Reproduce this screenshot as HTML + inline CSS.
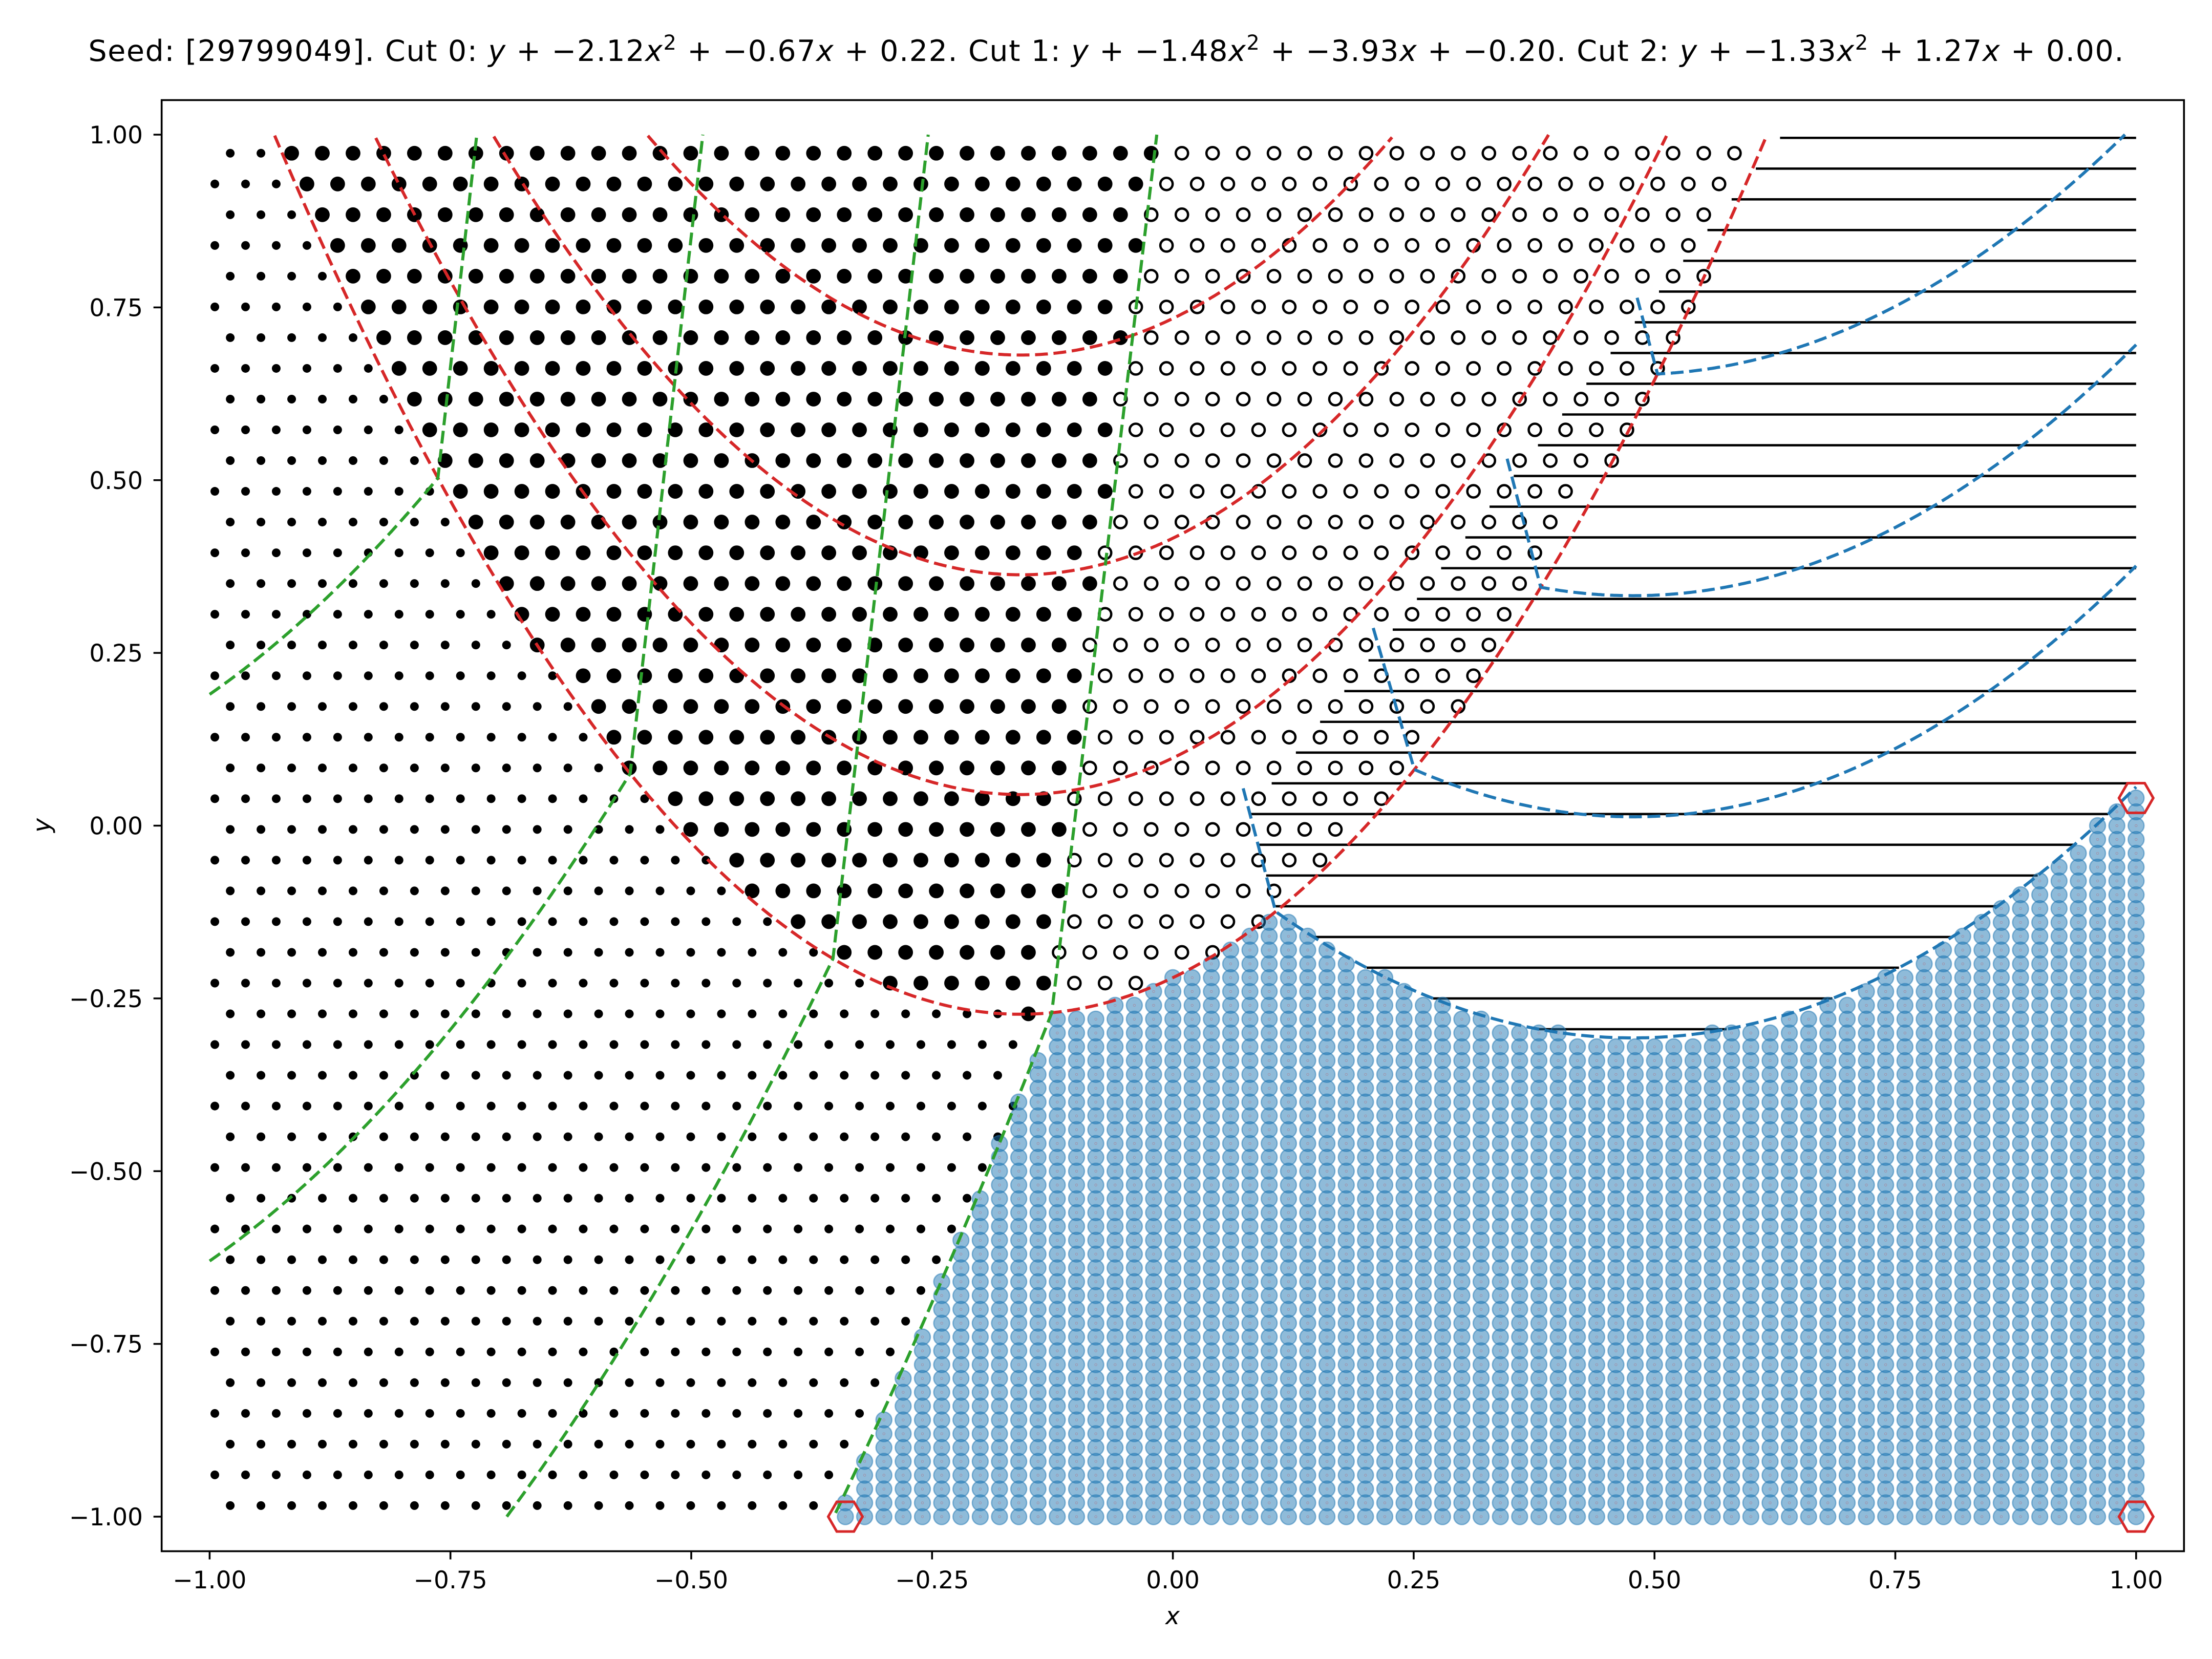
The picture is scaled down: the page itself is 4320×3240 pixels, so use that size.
<!DOCTYPE html>
<html><head><meta charset="utf-8">
<style>
html,body{margin:0;padding:0;background:#fff;}
svg{display:block;}
text{font-family:"DejaVu Sans","Liberation Sans",sans-serif;fill:#000;}
</style></head>
<body>
<svg id="chart" xmlns="http://www.w3.org/2000/svg" width="4320" height="3240" viewBox="0 0 4320 3240">
<rect x="0" y="0" width="4320" height="3240" fill="#fff"/>
<text x="2160" y="119" font-size="57" text-anchor="middle" textLength="3975" lengthAdjust="spacing">Seed: [29799049]. Cut 0: <tspan font-style="italic">y</tspan> + −2.12<tspan font-style="italic">x</tspan><tspan font-size="40" dy="-22">2</tspan><tspan dy="22"> + −0.67</tspan><tspan font-style="italic">x</tspan> + 0.22. Cut 1: <tspan font-style="italic">y</tspan> + −1.48<tspan font-style="italic">x</tspan><tspan font-size="40" dy="-22">2</tspan><tspan dy="22"> + −3.93</tspan><tspan font-style="italic">x</tspan> + −0.20. Cut 2: <tspan font-style="italic">y</tspan> + −1.33<tspan font-style="italic">x</tspan><tspan font-size="40" dy="-22">2</tspan><tspan dy="22"> + 1.27</tspan><tspan font-style="italic">x</tspan> + 0.00.</text>
<g id="plot"></g>
<g id="axes"></g>
<text x="2290" y="3172" font-size="47" font-style="italic" text-anchor="middle">x</text>
<text x="0" y="0" font-size="47" font-style="italic" text-anchor="middle" transform="translate(98,1612) rotate(-90)">y</text>
</svg>
<script>
// ---- data ----
const cut0 = [2.12, 0.67, -0.22];   // y <= a x^2 + b x + c
const cut1 = [1.48, 3.93, 0.20];
const cut2 = [1.33, -1.27, -0.004];
const redOffsets = [0, 0.318, 0.636, 0.954];
const greenOffsets = [0, 0.81, 1.62, 2.44];
const blueOffsets = [0, 0.32, 0.64, 0.96];
const greenTopX = [-0.0167, -0.254, -0.488, -0.7226];
const greenMidX = [-0.069];
const blueTopX = [0.073, 0.208, 0.347, 0.482];
const blueTopY = [0.054, 0.286, 0.531, 0.764];
const hexX = [-0.34, 1.0, 1.0];
const hexY = [-1.0, -1.0, 0.04];
const hlineBoundary = [0.077, 0.016, 0.565];
const xTicks = [-1.00, -0.75, -0.50, -0.25, 0.00, 0.25, 0.50, 0.75, 1.00];
const yTicks = [-1.00, -0.75, -0.50, -0.25, 0.00, 0.25, 0.50, 0.75, 1.00];
const xTickLabels = ["−1.00","−0.75","−0.50","−0.25","0.00","0.25","0.50","0.75","1.00"];
const yTickLabels = ["−1.00","−0.75","−0.50","−0.25","0.00","0.25","0.50","0.75","1.00"];
const hexRows = 45, hexY0 = -0.984, hexDy = 0.04448, hexDx = 0.03187, hexXEven = -0.9786, hexXOdd = -0.9946;
const blueStep = 0.02;

// ---- axes functions ----
const X = x => 409.4 + (x + 1) * 1881.2;
const Y = y => 263 + (1 - y) * 1349.5;
const NS = "http://www.w3.org/2000/svg";
const plot = document.getElementById('plot');
const axes = document.getElementById('axes');
function mk(tag, attrs, parent){const e=document.createElementNS(NS,tag);for(const k in attrs)e.setAttribute(k,attrs[k]);parent.appendChild(e);return e;}
const q = (c, x) => c[0]*x*x + c[1]*x + c[2];
function bisect(f, a, b){let fa=f(a);for(let i=0;i<60;i++){const m=(a+b)/2,fm=f(m);if((fm>0)===(fa>0)){a=m;fa=fm;}else b=m;}return (a+b)/2;}

const defs = mk('defs', {}, document.getElementById('chart'));
const cp = mk('clipPath', {id:'clip'}, defs);
mk('rect', {x:315.7, y:195.5, width:3949.6, height:2834}, cp);
plot.setAttribute('clip-path','url(#clip)');

const greenKinkX = greenOffsets.map(c => bisect(x => q(cut0,x) - q(cut1,x) - c, -1.2, 0.05));
const blueKinkX = blueOffsets.map(c => bisect(x => q(cut0,x) - q(cut2,x) - c, 0.0, 0.8));
function g4x(y){
  const ky = q(cut0, greenKinkX[0]);
  if (y <= ky) return greenKinkX[0];
  if (y <= 0.5) return greenKinkX[0] + (greenMidX[0]-greenKinkX[0])*(y-ky)/(0.5-ky);
  return greenMidX[0] + (greenTopX[0]-greenMidX[0])*(y-0.5)/0.5;
}

// ---- hlines ----
const gH = mk('g', {}, plot);
const b0ky = q(cut0, blueKinkX[0]);
for (let k=0;k<hexRows;k++){
  const y = hexY0 + k*hexDy + hexDy/2;
  const a=cut2[0], b=cut2[1], c=cut2[2]-y, disc=b*b-4*a*c;
  if (disc <= 0) continue;
  const r1=(-b-Math.sqrt(disc))/(2*a), r2=(-b+Math.sqrt(disc))/(2*a);
  let L = Math.max(-1, r1, hlineBoundary[0] + hlineBoundary[2]*(y-hlineBoundary[1]));
  if (y >= b0ky && y <= blueTopY[0]) L = Math.max(L, blueKinkX[0] + (blueTopX[0]-blueKinkX[0])*(y-b0ky)/(blueTopY[0]-b0ky));
  const R = Math.min(1, r2);
  if (R <= L) continue;
  const ln = mk('line', {x1:X(L), x2:X(R), y1:Y(y), y2:Y(y), stroke:'#000', 'stroke-width':4.6}, gH);
  
  
}

// ---- hex grid markers ----
const gD = mk('g', {}, plot);
for (let k=0;k<hexRows;k++){
  const y = hexY0 + k*hexDy;
  const x0 = (k%2===0) ? hexXEven : hexXOdd;
  for (let x=x0; x<=1.0001; x+=hexDx){
    const v0 = y > q(cut0,x), v1 = y > q(cut1,x);
    let el;
    if (v0){
      if (x < g4x(y)) el = mk('circle', {cx:X(x), cy:Y(y), r:14.4, fill:'#000'}, gD);
      else el = mk('circle', {cx:X(x), cy:Y(y), r:12, fill:'none', stroke:'#000', 'stroke-width':4.6}, gD);
    } else if (v1){
      el = mk('circle', {cx:X(x), cy:Y(y), r:8.5, fill:'#000'}, gD);
    }
    if (el){
      
      
    }
  }
}

// ---- feasible points ----
const gB = mk('g', {}, plot);
for (let i=0;i<=100;i++){
  const x = -1 + i*blueStep;
  for (let j=0;j<=100;j++){
    const y = -1 + j*blueStep;
    if (y <= q(cut0,x)+1e-9 && y <= q(cut1,x)+1e-9 && y <= q(cut2,x)+1e-9){
      const c = mk('circle', {cx:X(x), cy:Y(y), r:15.5, fill:'rgba(31,119,180,0.5)', stroke:'rgba(31,119,180,0.5)', 'stroke-width':2.5}, gB);
      
      
      const d = mk('circle', {cx:X(x), cy:Y(y), r:2.2, fill:'none', stroke:'rgba(214,39,40,0.35)', 'stroke-width':0.8}, gB);
      
      
    }
  }
}

// ---- curves ----
const gC = mk('g', {}, plot);
function poly(pts, color, name){
  const p = mk('polyline', {points: pts.map(p=>X(p[0]).toFixed(1)+','+Y(p[1]).toFixed(1)).join(' '), fill:'none', stroke:color, 'stroke-width':6, 'stroke-dasharray':'25 11'}, gC);
  
  
}
function sample(fn, a, b, n){const pts=[];for(let i=0;i<=n;i++){const x=a+(b-a)*i/n;const y=fn(x);if(y<=1.0001&&y>=-1.0001)pts.push([x,y]);}return pts;}
redOffsets.forEach((o,k)=>{
  const f = x => q(cut0,x)+o;
  poly(sample(f,-1,1,800), '#d62728', 'cut0-level-'+k);
});
greenOffsets.forEach((o,k)=>{
  const f = x => q(cut1,x)+o;
  const kx = greenKinkX[k];
  const lower = sample(f,-1,kx,300);
  lower.push([kx, f(kx)]);
  lower.push([greenTopX[k], 1.0]);
  poly(lower, '#2ca02c', 'cut1-level-'+k);
});
blueOffsets.forEach((o,k)=>{
  const f = x => q(cut2,x)+o;
  const kx = blueKinkX[k];
  const pts = [[blueTopX[k], blueTopY[k]], [kx, f(kx)]].concat(sample(f,kx,1,300));
  poly(pts, '#1f77b4', 'cut2-level-'+k);
});
hexX.forEach((hx,i)=>{
  const cx=X(hx), cy=Y(hexY[i]), r=33.5, pts=[];
  for(let a=0;a<6;a++){const t=a*Math.PI/3;pts.push((cx+r*Math.cos(t)).toFixed(1)+','+(cy+r*Math.sin(t)).toFixed(1));}
  const h = mk('polygon', {points:pts.join(' '), fill:'none', stroke:'#d62728', 'stroke-width':5}, plot);
  
  
});

// ---- axes ----
const frame = mk('rect', {x:315.7, y:195.5, width:3949.6, height:2834, fill:'none', stroke:'#000', 'stroke-width':3.6}, axes);


xTicks.forEach((t,i)=>{
  const tk = mk('line', {x1:X(t), x2:X(t), y1:3029.5, y2:3045.5, stroke:'#000', 'stroke-width':3.6}, axes);
  
  
  const tx = mk('text', {x:X(t), y:3102, 'font-size':47, 'text-anchor':'middle'}, axes);
  tx.textContent = xTickLabels[i];
  
  
});
yTicks.forEach((t,i)=>{
  const tk = mk('line', {x1:299.7, x2:315.7, y1:Y(t), y2:Y(t), stroke:'#000', 'stroke-width':3.6}, axes);
  
  
  const tx = mk('text', {x:279, y:Y(t)+17, 'font-size':47, 'text-anchor':'end'}, axes);
  tx.textContent = yTickLabels[i];
  
  
});
</script>
</body></html>
